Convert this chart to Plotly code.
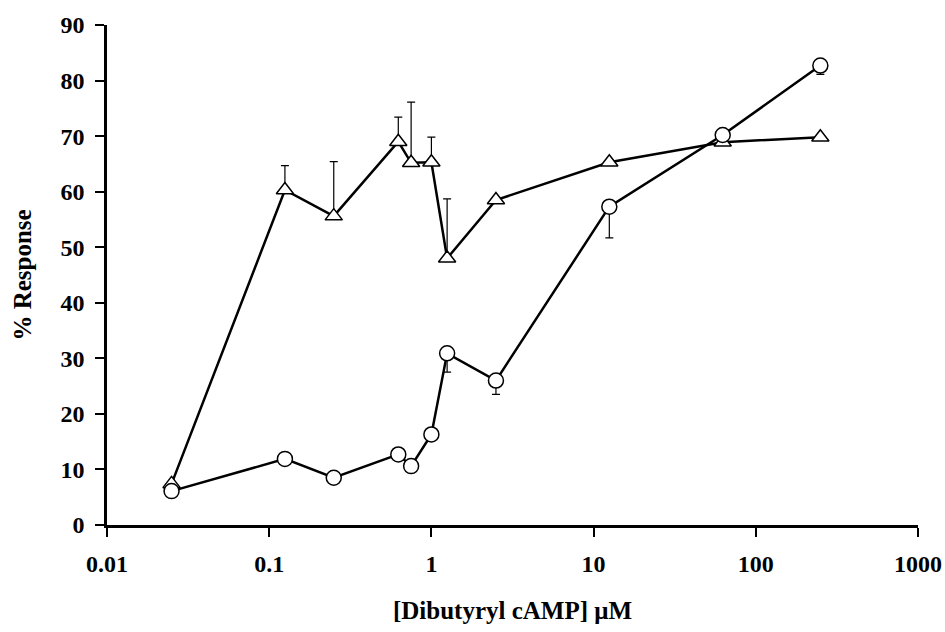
import plotly.graph_objects as go

conc = [0.025, 0.125, 0.25, 0.625, 0.75, 1.0, 1.25, 2.5, 12.5, 62.5, 250]
tri_resp = [7.4, 60.3, 55.6, 69.0, 65.2, 65.3, 48.0, 58.5, 65.3, 68.9, 69.8]
tri_err_up = [0, 4.4, 9.8, 4.4, 10.9, 4.5, 10.7, 0, 0, 0, 0]
circ_resp = [6.1, 11.9, 8.5, 12.7, 10.6, 16.3, 30.9, 26.0, 57.3, 70.2, 82.7]
circ_err_down = [0, 0, 0, 0, 0, 0, 3.4, 2.5, 5.6, 0, 1.6]

x_ticks = [0.01, 0.1, 1, 10, 100, 1000]
x_ticklabels = ["0.01", "0.1", "1", "10", "100", "1000"]
y_ticks = [0, 10, 20, 30, 40, 50, 60, 70, 80, 90]

FONT = "Liberation Serif, Times New Roman, serif"

fig = go.Figure()
fig.add_trace(go.Scatter(
    x=conc, y=tri_resp, mode="lines+markers",
    line=dict(color="black", width=2.5),
    marker=dict(symbol="triangle-up", size=15, color="white",
                line=dict(color="black", width=1.5)),
    error_y=dict(type="data", symmetric=False, array=tri_err_up,
                 arrayminus=[0] * len(conc), color="black", thickness=1.2, width=4),
    showlegend=False,
))
fig.add_trace(go.Scatter(
    x=conc, y=circ_resp, mode="lines+markers",
    line=dict(color="black", width=2.5),
    marker=dict(symbol="circle", size=15, color="white",
                line=dict(color="black", width=1.5)),
    error_y=dict(type="data", symmetric=False, array=[0] * len(conc),
                 arrayminus=circ_err_down, color="black", thickness=1.2, width=4),
    showlegend=False,
))

fig.update_layout(
    width=945, height=632,
    margin=dict(l=107, r=27, t=25, b=107),
    paper_bgcolor="white", plot_bgcolor="white",
    font=dict(family=FONT, color="black", size=24, weight="bold"),
    xaxis=dict(
        type="log", range=[-2, 3], automargin=False,
        tickvals=x_ticks, ticktext=x_ticklabels,
        showgrid=False, zeroline=False,
        showline=True, linecolor="black", linewidth=2.5,
        ticks="outside", ticklen=9, tickwidth=2, tickcolor="black",
        tickfont=dict(family=FONT, size=24, weight="bold"),
        ticklabelstandoff=6,
        title=dict(text="[Dibutyryl cAMP] μM",
                   font=dict(family=FONT, size=25, weight="bold"), standoff=26),
    ),
    yaxis=dict(
        range=[0, 90], tickvals=y_ticks, automargin=False,
        showgrid=False, zeroline=False,
        showline=True, linecolor="black", linewidth=2.5,
        ticks="outside", ticklen=9, tickwidth=2, tickcolor="black",
        tickfont=dict(family=FONT, size=24, weight="bold"),
        ticklabelstandoff=6,
        title=dict(text="% Response",
                   font=dict(family=FONT, size=25, weight="bold"), standoff=22),
    ),
)

fig.write_html("out.html")
